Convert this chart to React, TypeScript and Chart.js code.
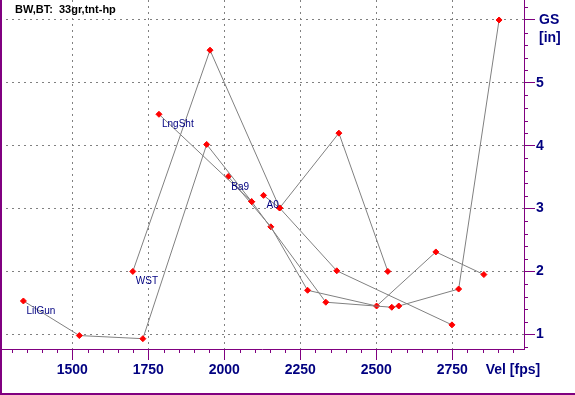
import React, { useEffect, useRef } from 'react';
import { Chart, registerables } from 'chart.js';
Chart.register(...registerables);

const chartTitle = 'BW,BT:  33gr,tnt-hp';
const seriesNames = ['LilGun', 'WST', 'LngSht', 'Ba9', 'A0'];
const lilGunVel = [1339, 1523, 1732, 1942, 2090];
const lilGunGS = [1.53, 0.98, 0.93, 4.02, 3.11];
const wstVel = [1699, 1953, 2182, 2377, 2538];
const wstGS = [2.0, 5.52, 3.01, 4.2, 2.0];
const lngShtVel = [1785, 2090, 2334, 2551, 2574, 2771, 2904];
const lngShtGS = [4.5, 3.11, 1.51, 1.43, 1.45, 1.72, 6.0];
const ba9Vel = [2013, 2153, 2274, 2501, 2696, 2854];
const ba9GS = [3.51, 2.71, 1.7, 1.45, 2.31, 1.95];
const a0Vel = [2129, 2182, 2370, 2749];
const a0GS = [3.21, 3.01, 2.01, 1.15];
const xTickValues = [1500, 1750, 2000, 2250, 2500, 2750];
const yTickValues = [1, 2, 3, 4, 5, 6];
const xAxisTitle = 'Vel [fps]';
const yAxisTitle = ['GS', '[in]'];
const xMin = 1262;
const xMax = 2986;
const yMin = 0.766;
const yMax = 6.318;

const PURPLE = '#800080';
const NAVY = '#000080';
const NARROW = "'Liberation Sans Narrow','Liberation Sans',Arial,sans-serif";
const SANS = "'Liberation Sans',Arial,sans-serif";

const allVel = [lilGunVel, wstVel, lngShtVel, ba9Vel, a0Vel];
const allGS = [lilGunGS, wstGS, lngShtGS, ba9GS, a0GS];

const overlay = {
  id: 'overlay',
  afterDatasetsDraw(chart: any) {
    const ctx = chart.ctx;
    const xs = chart.scales.x;
    const ys = chart.scales.y;
    ctx.save();
    // minor ticks
    ctx.strokeStyle = PURPLE;
    ctx.lineWidth = 1;
    ctx.beginPath();
    for (let v = 1300; v <= xMax; v += 50) {
      if (v % 250 === 0) continue;
      const px = Math.round(xs.getPixelForValue(v)) + 0.5;
      ctx.moveTo(px, ys.bottom);
      ctx.lineTo(px, ys.bottom + 4);
    }
    for (let i = 4; i <= 31; i++) {
      if (i % 5 === 0) continue;
      const py = Math.round(ys.getPixelForValue(i / 5)) + 0.5;
      ctx.moveTo(xs.right, py);
      ctx.lineTo(xs.right + 4, py);
    }
    ctx.stroke();
    // series labels
    ctx.fillStyle = NAVY;
    ctx.font = `10px ${SANS}`;
    ctx.textAlign = 'left';
    ctx.textBaseline = 'alphabetic';
    chart.data.datasets.forEach((ds: any, i: number) => {
      const meta = chart.getDatasetMeta(i);
      const p = meta.data[0];
      if (p) ctx.fillText(ds.label, p.x + 3, p.y + 13);
    });
    // axis titles
    ctx.font = `bold 14px ${NARROW}`;
    ctx.textBaseline = 'middle';
    const top = ys.getPixelForValue(6);
    ctx.fillText(yAxisTitle[0], xs.right + 15, top);
    ctx.fillText(yAxisTitle[1], xs.right + 15, top + 18);
    ctx.fillText(xAxisTitle, xs.getPixelForValue(2860), ys.bottom + 21);
    // title
    ctx.fillStyle = '#000000';
    ctx.font = `bold 11px ${SANS}`;
    ctx.textBaseline = 'alphabetic';
    ctx.fillText(chartTitle, 15, 13);
    // frame
    ctx.fillStyle = PURPLE;
    ctx.fillRect(0, 0, 2, chart.height);
    ctx.fillRect(0, chart.height - 2, chart.width, 2);
    ctx.restore();
  },
};

const zeroPad = (s: any) => {
  s.paddingTop = 0;
  s.paddingBottom = 0;
  s.paddingLeft = 0;
  s.paddingRight = 0;
};

export default function App() {
  const ref = useRef<HTMLCanvasElement | null>(null);
  useEffect(() => {
    document.body.style.margin = '0';
    const canvas = ref.current!;
    const datasets = seriesNames.map((name, i) => ({
      label: name,
      data: allVel[i].map((v, j) => ({ x: v, y: allGS[i][j] })),
      showLine: true,
      borderColor: '#808080',
      borderWidth: 1,
      pointStyle: 'rectRot',
      pointRadius: 3,
      pointBorderWidth: 1,
      pointBackgroundColor: '#ff0000',
      pointBorderColor: '#ff0000',
    }));
    const chart = new Chart(canvas, {
      type: 'scatter',
      data: { datasets } as any,
      options: {
        animation: false,
        responsive: false,
        devicePixelRatio: 1,
        layout: { padding: 0, autoPadding: false },
        plugins: { legend: { display: false }, tooltip: { enabled: false }, title: { display: false } },
        scales: {
          x: {
            type: 'linear',
            position: 'bottom',
            min: xMin,
            max: xMax,
            afterBuildTicks: (s: any) => { s.ticks = xTickValues.map((v) => ({ value: v })); },
            afterFit: (s: any) => { s.height = 46; zeroPad(s); },
            ticks: {
              color: NAVY,
              padding: 2,
              maxRotation: 0,
              autoSkip: false,
              font: { family: NARROW, size: 14, weight: 'bold' },
              callback: (v: any) => String(v),
            },
            grid: {
              color: '#808080',
              lineWidth: 1,
              tickLength: 11,
              tickColor: PURPLE,
              tickWidth: 1,
              drawTicks: true,
            },
            border: { display: true, color: PURPLE, width: 1, dash: [2, 4] },
          },
          y: {
            type: 'linear',
            position: 'right',
            min: yMin,
            max: yMax,
            afterBuildTicks: (s: any) => { s.ticks = yTickValues.map((v) => ({ value: v })); },
            afterFit: (s: any) => { s.width = 51; zeroPad(s); },
            ticks: {
              color: NAVY,
              padding: 1,
              autoSkip: false,
              font: { family: NARROW, size: 14, weight: 'bold' },
              callback: (v: any) => (v >= 6 ? '' : String(v)),
            },
            grid: {
              color: '#808080',
              lineWidth: 1,
              tickLength: 11,
              tickColor: PURPLE,
              tickWidth: 1,
              drawTicks: true,
            },
            border: { display: true, color: PURPLE, width: 1, dash: [2, 4] },
          },
        },
      } as any,
      plugins: [overlay],
    });
    return () => chart.destroy();
  }, []);
  return (
    <div style={{ position: 'absolute', left: 0, top: 0, width: 575, height: 395, background: '#fff' }}>
      <canvas ref={ref} width={575} height={395} style={{ display: 'block' }} />
    </div>
  );
}
